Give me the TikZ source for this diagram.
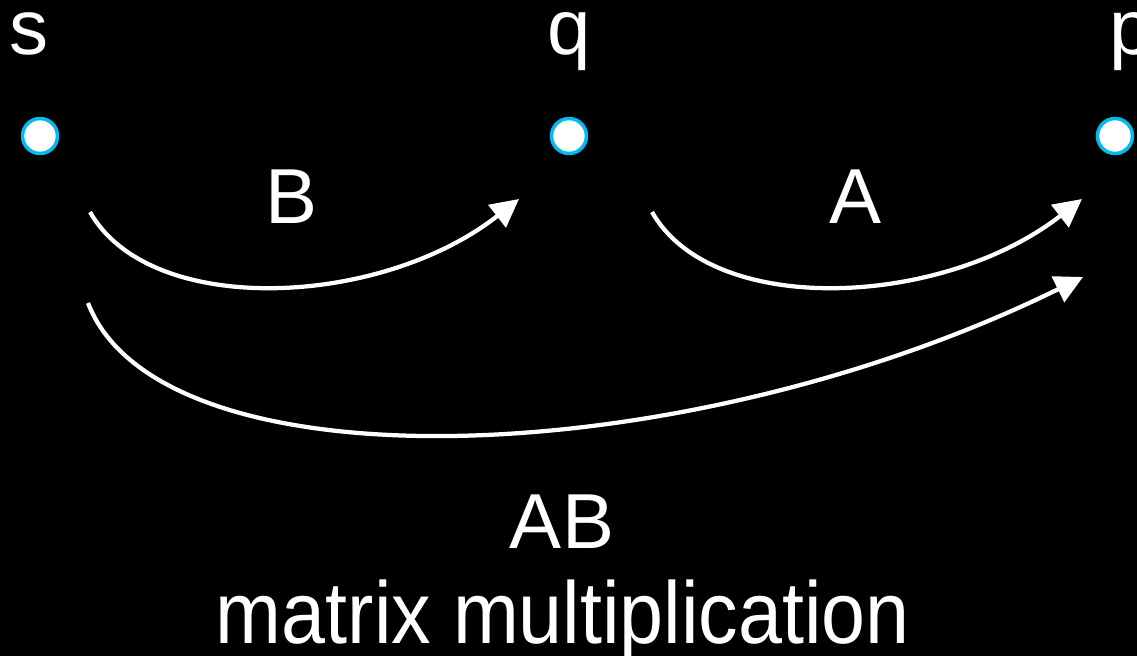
\documentclass[tikz,border=0pt]{standalone}
\usepackage{fontspec}
\setmainfont{Liberation Sans}
\usepackage{tikz}
\usetikzlibrary{arrows.meta, positioning}
\definecolor{DotCyan}{RGB}{0,186,240}

\begin{document}
\begin{tikzpicture}[x=0.02cm, y=-0.02cm,
          dot/.style={circle, draw=DotCyan, fill=white, line width=0.07cm,
                      minimum size=0.7cm, inner sep=0pt},
          lbl/.style={text=white, inner sep=0pt, anchor=base,
                      font=\fontsize{44.4}{50}\selectfont},
          arr/.style={-{Triangle[length=0.56cm, width=0.56cm]},
                      white, line width=0.085cm}
        ]
        % black page
        \fill[black] (0,0) rectangle (1137,656);
        \useasboundingbox (0,0) rectangle (1137,656);

        % objects
        \node[dot] (s) at (40,136)   {};
        \node[dot] (q) at (569,136)  {};
        \node[dot] (p) at (1115,136) {};
        \node[lbl] (s-lbl) at (29,54)   {s};
        \node[lbl] (q-lbl) at (569,54)  {q};
        \node[lbl] (p-lbl) at (1131,54) {p};

        % arrow ends
        \coordinate (b-from)  at (90,212);
        \coordinate (b-to)    at (519,199);
        \coordinate (a-from)  at (652,212);
        \coordinate (a-to)    at (1082,199);
        \coordinate (ab-from) at (88,303);
        \coordinate (ab-to)   at (1083,277);

        % maps
        \draw[arr] (b-from) .. controls (150,318) and (380,308) .. (b-to);
        \draw[arr] (a-from) .. controls (712,318) and (942,308) .. (a-to);
        \draw[arr] (ab-from) .. controls (160,490) and (680,475) .. (ab-to);

        \node[lbl] (b-lbl) at (292,223) {B};
        \node[lbl] (a-lbl) at (856,223) {A};
        \node[lbl] (ab-lbl) at (562,548) {AB};
        \node[lbl, font=\fontsize{50}{56}\selectfont] (mm-lbl) at (563,643)
              {\scalebox{0.9}[1]{matrix multiplication}};
      \end{tikzpicture}
\end{document}
